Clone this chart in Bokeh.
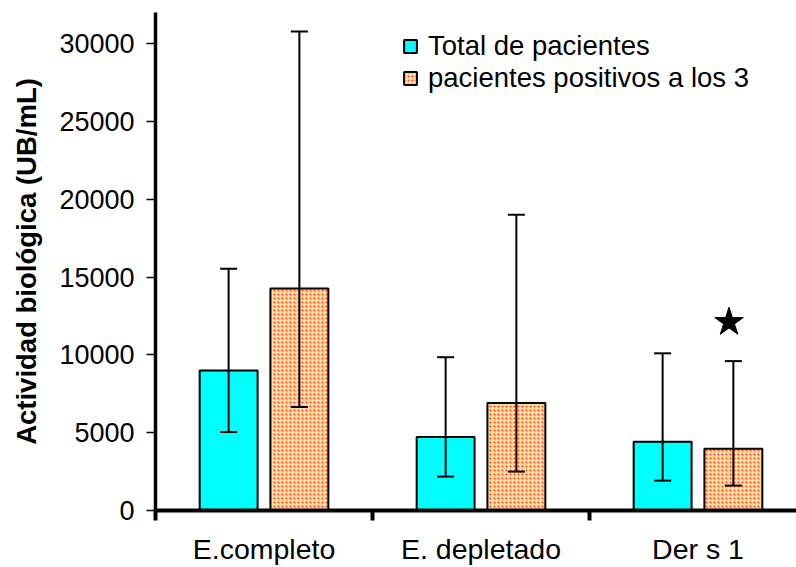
from bokeh.plotting import figure
from bokeh.models import (ColumnDataSource, Whisker, TeeHead, FixedTicker, Range1d,
                          Legend, LegendItem)
from bokeh.embed import file_html
from bokeh.resources import INLINE

# ---- data ----
categories = ["E.completo", "E. depletado", "Der s 1"]
total = [9000, 4730, 4410]
total_low = [5050, 2180, 1920]
total_high = [15540, 9850, 10100]
positivos = [14270, 6910, 3970]
positivos_low = [6650, 2500, 1600]
positivos_high = [30780, 19000, 9600]
star_category = 2
star_value = 12100
y_ticks = [0, 5000, 10000, 15000, 20000, 25000, 30000]

OFF = 0.163
W = 0.267
centers = [i + 0.5 for i in range(len(categories))]

src_t = ColumnDataSource(dict(x=[c - OFF for c in centers], top=total,
                              low=total_low, high=total_high))
src_p = ColumnDataSource(dict(x=[c + OFF for c in centers], top=positivos,
                              low=positivos_low, high=positivos_high))

FONT = "Liberation Sans"

p = figure(width=796, height=567, output_backend="svg", toolbar_location=None,
           x_range=Range1d(0, 641 / 217), y_range=Range1d(0, 32000),
           min_border_left=155, min_border_bottom=55, min_border_top=12,
           min_border_right=0)
p.outline_line_color = None
p.xgrid.grid_line_color = None
p.ygrid.grid_line_color = None
p.background_fill_color = "white"
p.border_fill_color = "white"

r_t = p.vbar(x="x", top="top", width=W, source=src_t, fill_color="#00FFFF",
             line_color="black", line_width=2)
r_p = p.vbar(x="x", top="top", width=W, source=src_p, fill_color="#FFDDA0",
             hatch_pattern=".", hatch_color="#FF3C1E", hatch_scale=4,
             hatch_weight=3.2, line_color="black", line_width=2)

for src in (src_t, src_p):
    w = Whisker(base="x", lower="low", upper="high", source=src,
                line_color="black", line_width=2, level="annotation",
                lower_head=TeeHead(size=17, line_width=2, line_color="black"),
                upper_head=TeeHead(size=17, line_width=2, line_color="black"))
    p.add_layout(w)

p.scatter(x=[centers[star_category] + OFF - 0.02], y=[star_value], marker="star",
          size=30, fill_color="black", line_color="black")

# x axis
xa = p.xaxis[0]
xa.ticker = FixedTicker(ticks=centers, minor_ticks=[0, 1, 2, 3])
xa.major_label_overrides = {c: n for c, n in zip(centers, categories)}
xa.major_tick_out = 0
xa.major_tick_in = 0
xa.minor_tick_out = 10
xa.minor_tick_in = 0
xa.minor_tick_line_width = 4
xa.minor_tick_line_color = "black"
xa.axis_line_width = 4
xa.axis_line_color = "black"
xa.major_label_text_font = FONT
xa.major_label_text_font_size = "28.5px"
xa.major_label_text_color = "black"
xa.major_label_standoff = 12

# y axis
ya = p.yaxis[0]
ya.ticker = FixedTicker(ticks=y_ticks, minor_ticks=[])
ya.major_tick_out = 9
ya.major_tick_in = 0
ya.major_tick_line_width = 1.5
ya.major_tick_line_color = "black"
ya.axis_line_width = 3.5
ya.axis_line_color = "black"
ya.major_label_text_font = FONT
ya.major_label_text_font_size = "27px"
ya.major_label_text_color = "black"
ya.major_label_standoff = 12
ya.axis_label = "Actividad biológica (UB/mL)"
ya.axis_label_text_font = FONT
ya.axis_label_text_font_size = "27.5px"
ya.axis_label_text_font_style = "bold"
ya.axis_label_text_color = "black"
ya.axis_label_standoff = 14

legend = Legend(items=[LegendItem(label="Total de pacientes", renderers=[r_t]),
                       LegendItem(label="pacientes positivos a los 3", renderers=[r_p])],
                location=(247, 416), orientation="vertical",
                label_text_font=FONT, label_text_font_size="27.5px",
                label_text_color="black", glyph_width=16, glyph_height=16,
                label_standoff=10, spacing=0, padding=0, margin=0,
                label_height=30, border_line_color=None, background_fill_alpha=0)
p.add_layout(legend, "center")

open("out.html", "w").write(file_html(p, INLINE))
